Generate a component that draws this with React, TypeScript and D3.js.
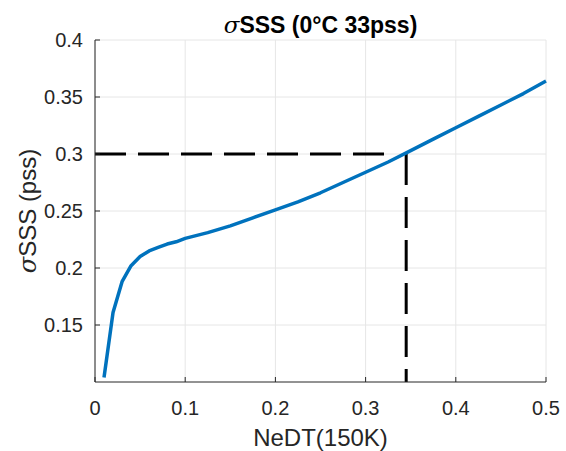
import React from 'react'
import * as d3 from 'd3'

// NeDT (K) vs sigma SSS (pss)
const nedt = [0.01, 0.02, 0.03, 0.04, 0.05, 0.06, 0.07, 0.08, 0.09, 0.1, 0.125, 0.15, 0.175, 0.2, 0.225, 0.25, 0.275, 0.3, 0.325, 0.35, 0.375, 0.4, 0.425, 0.45, 0.475, 0.5]
const sigmaSSS = [0.104, 0.161, 0.188, 0.202, 0.21, 0.215, 0.218, 0.221, 0.223, 0.226, 0.231, 0.237, 0.244, 0.251, 0.258, 0.266, 0.275, 0.284, 0.293, 0.303, 0.313, 0.323, 0.333, 0.343, 0.353, 0.364]
const xTicks = [0, 0.1, 0.2, 0.3, 0.4, 0.5]
const yTicks = [0.15, 0.2, 0.25, 0.3, 0.35, 0.4]
// guide lines: horizontal at sigma 0.3, vertical at NeDT 0.345
const target = { x: 0.345, y: 0.3, hEnd: 0.33 }

const width = 566
const height = 451
const margin = { top: 40, right: 20, bottom: 69, left: 95 }

const App = () => {
  const x = d3.scaleLinear().domain([0, 0.5]).range([margin.left, width - margin.right])
  const y = d3.scaleLinear().domain([0.1, 0.4]).range([height - margin.bottom, margin.top])
  const data = nedt.map((d, i) => [d, sigmaSSS[i]] as [number, number])
  const line = d3.line<[number, number]>().x(d => x(d[0])).y(d => y(d[1]))
  const x0 = x(0), x1 = x(0.5), y0 = y(0.1), y1 = y(0.4)
  const axisColor = '#262626'
  const font = 'Liberation Sans, Arial, sans-serif'

  return (
    <svg width={width} height={height} style={{ position: 'absolute', left: 0, top: 0 }} fontFamily={font}>
      <rect width={width} height={height} fill='#fff' />
      {/* grid */}
      {xTicks.map(t => (
        <line key={'gx' + t} x1={x(t)} x2={x(t)} y1={y0} y2={y1} stroke='#e6e6e6' strokeWidth={1} />
      ))}
      {yTicks.map(t => (
        <line key={'gy' + t} x1={x0} x2={x1} y1={y(t)} y2={y(t)} stroke='#e6e6e6' strokeWidth={1} />
      ))}
      {/* dashed guide lines */}
      <line x1={x(0)} x2={x(target.hEnd)} y1={y(target.y)} y2={y(target.y)} stroke='#000' strokeWidth={3} strokeDasharray='31,12' />
      <line x1={x(target.x)} x2={x(target.x)} y1={y(target.y)} y2={y(0.1)} stroke='#000' strokeWidth={3} strokeDasharray='31,12' />
      {/* curve */}
      <path d={line(data) || ''} fill='none' stroke='#0072BD' strokeWidth={3.5} strokeLinejoin='round' />
      {/* axes */}
      <line x1={x0} x2={x1} y1={y0} y2={y0} stroke={axisColor} strokeWidth={1} />
      <line x1={x0} x2={x0} y1={y0} y2={y1} stroke={axisColor} strokeWidth={1} />
      {xTicks.map(t => (
        <g key={'tx' + t}>
          <line x1={x(t)} x2={x(t)} y1={y0} y2={y0 - 5} stroke={axisColor} />
          <text x={x(t)} y={y0 + 33} textAnchor='middle' fontSize={20} fill={axisColor}>{t === 0 ? '0' : t}</text>
        </g>
      ))}
      {yTicks.map(t => (
        <g key={'ty' + t}>
          <line x1={x0} x2={x0 + 5} y1={y(t)} y2={y(t)} stroke={axisColor} />
          <text x={x0 - 12} y={y(t) + 7} textAnchor='end' fontSize={20} fill={axisColor}>{t}</text>
        </g>
      ))}
      {/* title */}
      <text x={(x0 + x1) / 2} y={33} textAnchor='middle' fontSize={23} fontWeight='bold' fill='#000'>
        <tspan fontFamily='DejaVu Serif, serif' fontStyle='italic' fontWeight='normal'>σ</tspan>SSS (0°C 33pss)
      </text>
      {/* x label */}
      <text x={(x0 + x1) / 2} y={446} textAnchor='middle' fontSize={24} fill={axisColor}>NeDT(150K)</text>
      {/* y label */}
      <text transform={`translate(36,${(y0 + y1) / 2}) rotate(-90)`} textAnchor='middle' fontSize={24} fill={axisColor}>
        <tspan fontFamily='DejaVu Serif, serif' fontStyle='italic'>σ</tspan>SSS (pss)
      </text>
    </svg>
  )
}

export default App
